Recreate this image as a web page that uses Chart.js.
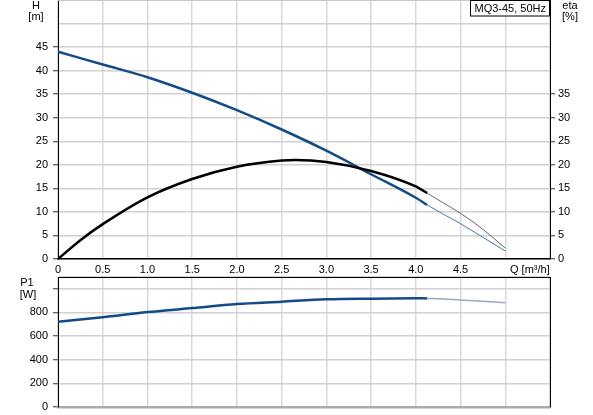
<!DOCTYPE html>
<html>
<head>
<meta charset="utf-8">
<script src="https://cdn.jsdelivr.net/npm/chart.js@4/dist/chart.umd.min.js"></script>
<style>
html,body{margin:0;padding:0;background:#fff;}
#wrap{position:relative;width:593px;height:415px;overflow:hidden;}
#c1box{position:absolute;left:0;top:0;width:593px;height:277px;}
#c2box{position:absolute;left:0;top:276px;width:593px;height:139px;}
</style>
</head>
<body>
<div id="wrap">
<div id="c1box"><canvas id="c1"></canvas></div>
<div id="c2box"><canvas id="c2"></canvas></div>
</div>
<script>
// ---- data ----
const qTicks = [0, 0.5, 1.0, 1.5, 2.0, 2.5, 3.0, 3.5, 4.0, 4.5, 5.0, 5.5];
const qLabels = ['0', '0.5', '1.0', '1.5', '2.0', '2.5', '3.0', '3.5', '4.0', '4.5', '', ''];
const hTicks = [0, 5, 10, 15, 20, 25, 30, 35, 40, 45, 50, 55];
const hLabels = ['0', '5', '10', '15', '20', '25', '30', '35', '40', '45', '', ''];
const etaLabels = ['0', '5', '10', '15', '20', '25', '30', '35', '', '', '', ''];
const p1Ticks = [0, 200, 400, 600, 800, 1000, 1100];
const p1Labels = ['0', '200', '400', '600', '800', '', ''];
const p1TickMarks = [true, true, true, true, true, true, false];

const qH = [0, 0.5, 1.0, 1.5, 2.0, 2.5, 3.0, 3.5, 4.0, 4.126];
const hVals = [44.0, 41.3, 38.6, 35.3, 31.6, 27.5, 23.0, 18.0, 13.0, 11.5];
const qHExt = [4.126, 4.3, 4.5, 4.75, 5.0];
const hExt = [11.5, 9.6, 7.5, 4.6, 1.7];

const qEta = [0, 0.25, 0.5, 1.0, 1.5, 2.0, 2.5, 2.65, 3.0, 3.5, 4.0, 4.126];
const etaVals = [0, 4.0, 7.4, 13.1, 17.0, 19.6, 20.9, 21.0, 20.6, 18.7, 15.4, 14.0];
const qEtaExt = [4.126, 4.3, 4.5, 4.75, 5.0];
const etaExt = [14.0, 12.0, 9.7, 6.3, 2.3];

const qP = [0, 0.5, 1.0, 1.5, 2.0, 2.5, 3.0, 3.5, 4.0, 4.126];
const p1Vals = [721, 760, 803, 837, 871, 891, 911, 917, 920, 919];
const qPExt = [4.126, 4.3, 4.5, 4.75, 5.0];
const p1Ext = [919, 914, 906, 895, 883];

const title = 'MQ3-45, 50Hz';

// ---- helpers ----
const FONT = "'Liberation Sans', Arial, sans-serif";
const pts = (xs, ys) => xs.map((x, i) => ({x: x, y: ys[i]}));
const setTicks = arr => (s => { s.ticks = arr.map(v => ({value: v})); });
const BLUE = '#144a88';

function xScale(showLabels, h, borderColor, borderWidth) {
  return {
    type: 'linear', min: 0, max: 5.5, position: 'bottom',
    afterBuildTicks: setTicks(qTicks),
    afterFit: s => { s.height = h; s.paddingLeft = 0; s.paddingRight = 0; },
    grid: { color: '#d9d9d9', lineWidth: 1.5, drawTicks: false },
    border: { color: borderColor, width: borderWidth },
    ticks: { display: showLabels, padding: 4, autoSkip: false, maxRotation: 0,
      color: '#000', font: { family: FONT, size: 11 },
      callback: (v, i) => qLabels[i] }
  };
}
function yScale(pos, max, ticksArr, labels, marks, w, onArea) {
  return {
    type: 'linear', position: pos, min: 0, max: max,
    afterBuildTicks: setTicks(ticksArr),
    afterFit: s => { s.width = w; s.paddingTop = 0; s.paddingBottom = 0; },
    grid: { color: '#d0d0d0', lineWidth: 1.5, drawOnChartArea: onArea, drawTicks: true,
      tickLength: 5, tickWidth: 1,
      tickColor: c => (marks[c.index] ? '#333' : 'rgba(0,0,0,0)') },
    border: { color: '#000', width: 1 },
    ticks: { padding: pos === 'left' ? 5 : 3, autoSkip: false, color: '#000',
      font: { family: FONT, size: 11 }, callback: (v, i) => labels[i] }
  };
}

function text(ctx, str, x, y, align) {
  ctx.save();
  ctx.font = '11px ' + FONT;
  ctx.fillStyle = '#000';
  ctx.textAlign = align || 'center';
  ctx.textBaseline = 'middle';
  ctx.fillText(str, x, y);
  ctx.restore();
}

const topDecor = {
  id: 'topDecor',
  afterDraw(chart) {
    const ctx = chart.ctx, a = chart.chartArea;
    ctx.save();
    ctx.strokeStyle = '#c8c8c8';
    ctx.lineWidth = 1;
    ctx.beginPath();
    ctx.moveTo(a.left, a.top + 0.5);
    ctx.lineTo(a.right, a.top + 0.5);
    ctx.stroke();
    ctx.restore();
    text(ctx, 'H', 36, 6);
    text(ctx, '[m]', 36, 17);
    text(ctx, 'eta', 570, 6);
    text(ctx, '[%]', 570, 17);
    text(ctx, 'Q [m³/h]', 510, 270, 'left');
    ctx.save();
    ctx.font = '11px ' + FONT;
    const tw = ctx.measureText(title).width;
    const bx = a.right - tw - 8, bw = tw + 8, bh = 16;
    ctx.fillStyle = '#fff';
    ctx.fillRect(bx, 0, bw, bh);
    ctx.strokeStyle = '#000';
    ctx.lineWidth = 1;
    ctx.strokeRect(Math.round(bx) + 0.5, 0.5, Math.round(bw) - 1, bh - 0.5);
    ctx.restore();
    text(ctx, title, bx + bw / 2, 8.5);
  }
};

const botDecor = {
  id: 'botDecor',
  afterDraw(chart) {
    const ctx = chart.ctx, a = chart.chartArea;
    ctx.save();
    ctx.strokeStyle = '#000';
    ctx.lineWidth = 1;
    ctx.beginPath();
    ctx.moveTo(a.left, a.top + 0.5);
    ctx.lineTo(a.right, a.top + 0.5);
    ctx.stroke();
    ctx.restore();
    text(ctx, 'P1', 27, 7);
    text(ctx, '[W]', 28, 19);
  }
};

const hMarks = hLabels.map(l => l !== '');
const etaMarks = etaLabels.map(l => l !== '');

new Chart(document.getElementById('c1'), {
  type: 'line',
  data: {
    datasets: [
      { data: pts(qEta, etaVals), yAxisID: 'yEta', borderColor: '#000', borderWidth: 2.5, order: 1 },
      { data: pts(qEtaExt, etaExt), yAxisID: 'yEta', borderColor: '#666', borderWidth: 1, order: 3 },
      { data: pts(qH, hVals), yAxisID: 'y', borderColor: BLUE, borderWidth: 2.5, order: 2 },
      { data: pts(qHExt, hExt), yAxisID: 'y', borderColor: '#4a72aa', borderWidth: 1, order: 4 }
    ]
  },
  options: {
    responsive: true, maintainAspectRatio: false, animation: false,
    layout: { padding: 0 },
    elements: { point: { radius: 0 }, line: { cubicInterpolationMode: 'monotone', fill: false } },
    plugins: { legend: { display: false }, tooltip: { enabled: false } },
    scales: {
      x: xScale(true, 18, '#000', 1.5),
      y: yScale('left', 55, hTicks, hLabels, hMarks, 58, true),
      yEta: yScale('right', 55, hTicks, etaLabels, etaMarks, 43, false)
    }
  },
  plugins: [topDecor]
});

const y2 = yScale('right', 1100, p1Ticks, p1Ticks.map(() => ''), p1Ticks.map(() => false), 43, false);
y2.grid.drawTicks = false;
y2.ticks.display = false;

new Chart(document.getElementById('c2'), {
  type: 'line',
  data: {
    datasets: [
      { data: pts(qP, p1Vals), yAxisID: 'y', borderColor: BLUE, borderWidth: 2.5, order: 1 },
      { data: pts(qPExt, p1Ext), yAxisID: 'y', borderColor: '#9aa8c0', borderWidth: 1.5, order: 2 }
    ]
  },
  options: {
    responsive: true, maintainAspectRatio: false, animation: false,
    layout: { padding: { top: 1, left: 0, right: 0, bottom: 0 } },
    elements: { point: { radius: 0 }, line: { cubicInterpolationMode: 'monotone', fill: false } },
    plugins: { legend: { display: false }, tooltip: { enabled: false } },
    scales: {
      x: xScale(false, 8, '#aaa', 2.5),
      y: yScale('left', 1100, p1Ticks, p1Labels, p1TickMarks, 58, true),
      y2: y2
    }
  },
  plugins: [botDecor]
});
</script>
</body>
</html>
